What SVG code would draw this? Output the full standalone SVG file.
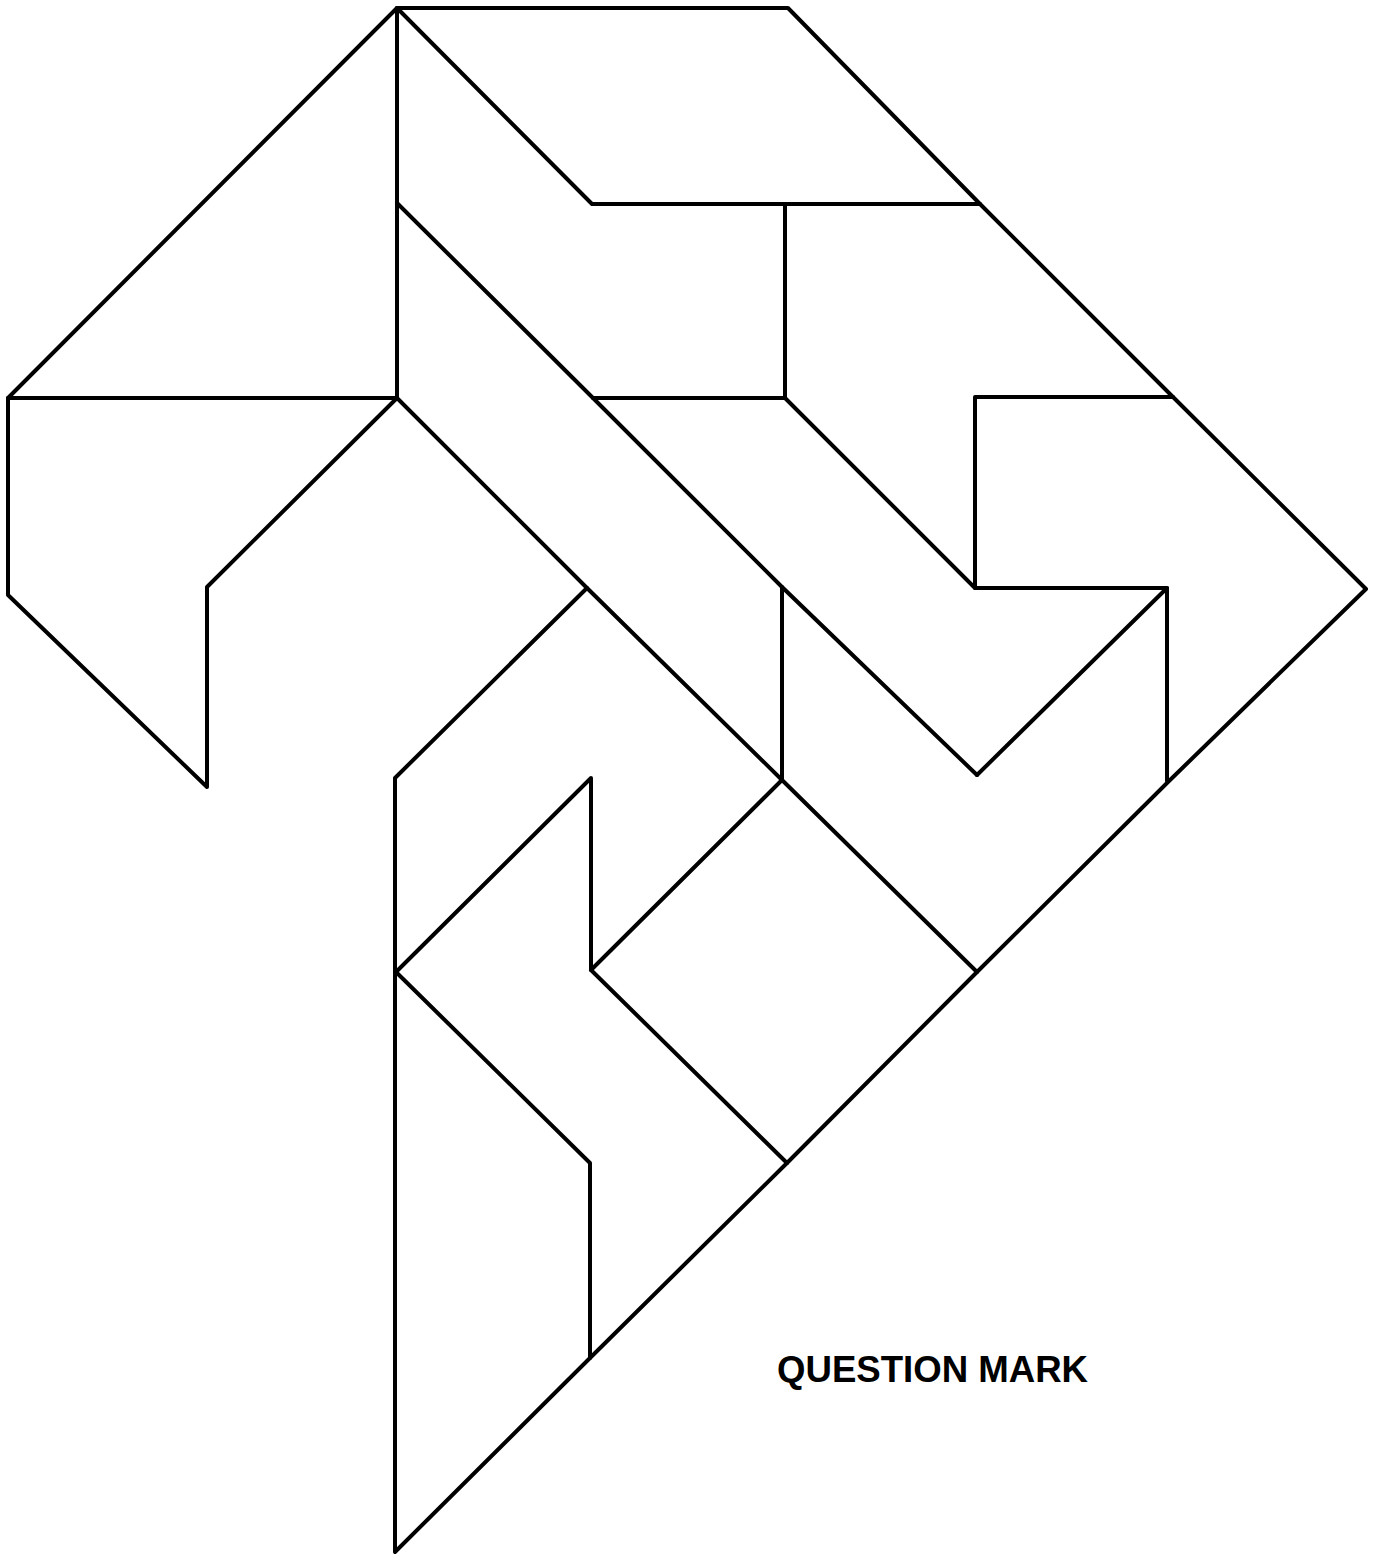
<svg xmlns="http://www.w3.org/2000/svg" width="1379" height="1555" viewBox="0 0 1379 1555">
<style>
.l{fill:none;stroke:#000;stroke-width:4;stroke-linejoin:round;stroke-linecap:round}
.t{font-family:"Liberation Sans",Arial,sans-serif;font-weight:bold;font-size:37px;fill:#000}
</style>
<rect width="1379" height="1555" fill="#fff"/>
<g id="outline">
<polyline class="l" points="397,398 207,587 207,787 8,595 8,398 397,8 788,8 980,204 1173,397 1366,589 1168,782 977,972 787,1163 590,1358 395,1552 395,778 587,588"/>
</g>
<g id="inner-lines">
<line class="l" x1="8" y1="398" x2="397" y2="398"/>
<line class="l" x1="397" y1="8" x2="397" y2="398"/>
<polyline class="l" points="397,8 592,204 980,204"/>
<line class="l" x1="785" y1="204" x2="785" y2="398"/>
<polyline class="l" points="397,203 593,398 782,587 977,775"/>
<line class="l" x1="593" y1="398" x2="785" y2="398"/>
<polyline class="l" points="785,398 975,588 975,397 1173,397"/>
<polyline class="l" points="975,588 1167,588 1167,781"/>
<line class="l" x1="1167" y1="588" x2="977" y2="775"/>
<polyline class="l" points="397,398 587,588 782,780"/>
<line class="l" x1="782" y1="587" x2="782" y2="780"/>
<line class="l" x1="782" y1="780" x2="977" y2="972"/>
<polyline class="l" points="782,780 591,970 591,778 396,972"/>
<line class="l" x1="591" y1="970" x2="787" y2="1163"/>
<polyline class="l" points="396,972 590,1163 590,1358"/>
</g>
<text class="t" x="777" y="1382" textLength="311" lengthAdjust="spacingAndGlyphs">QUESTION MARK</text>
</svg>
